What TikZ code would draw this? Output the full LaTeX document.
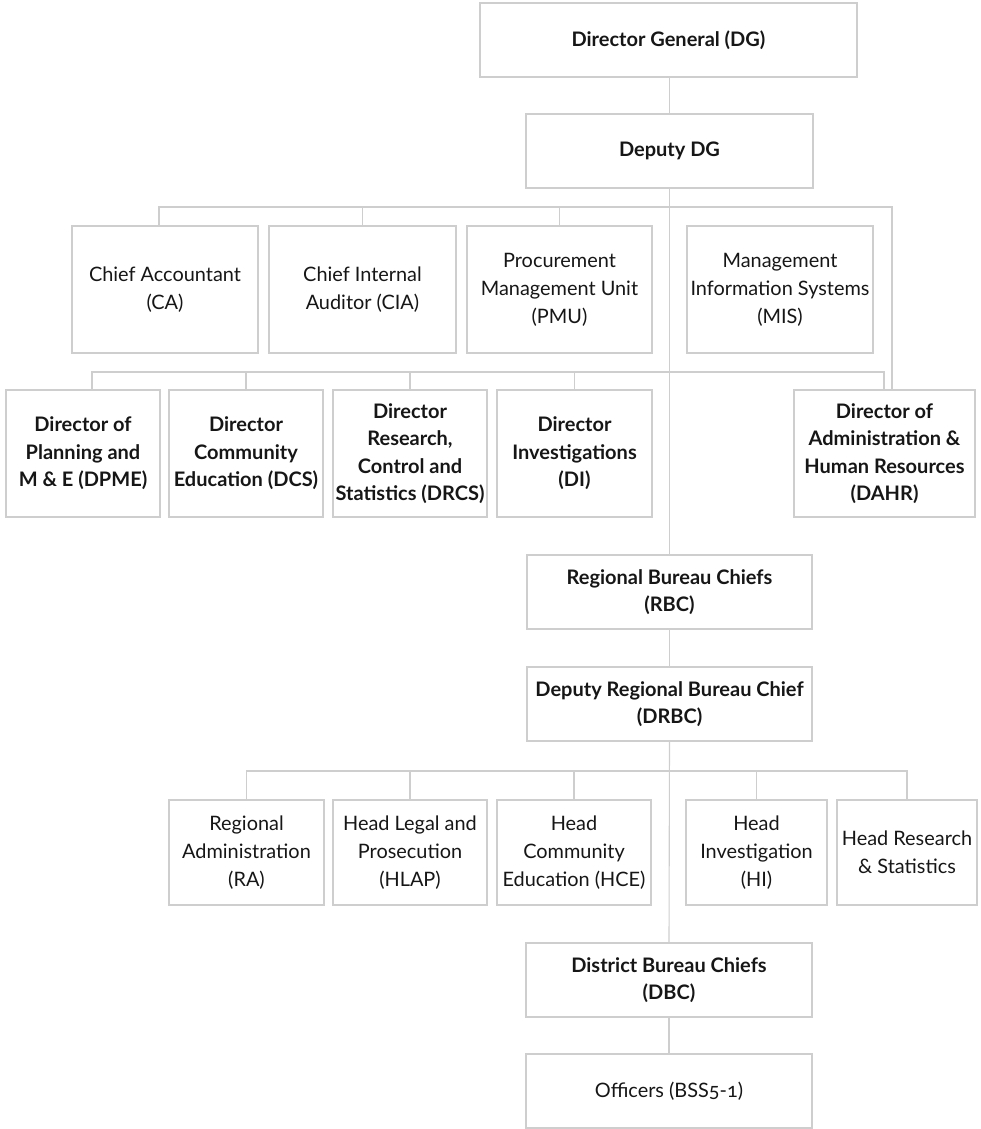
\documentclass[tikz,border=0pt]{standalone}
\usepackage{fontspec}
\setmainfont{Lato}[Numbers=OldStyle]
\definecolor{linegray}{RGB}{206,206,206}
\definecolor{ink}{RGB}{22,22,22}
\tikzset{
  box/.style={draw=linegray,line width=1.1pt,inner sep=0pt,align=center,text=ink,
    font=\fontsize{19.9}{28}\selectfont},
  bbox/.style={box,font=\fontsize{20}{27.5}\selectfont\bfseries},
  link/.style={draw=linegray,line width=1.1pt},
  sz/.style 2 args={minimum width=#1pt,minimum height=#2pt}
}
\begin{document}
\begin{tikzpicture}[x=1pt,y=-1pt]
\useasboundingbox (0,0) rectangle (980,1129);
% top
\node[bbox,sz={377}{74}] (DG) at (668.5,40) {Director General (DG)};
\node[bbox,sz={287}{74}] (DDG) at (669.5,151) {Deputy DG};
% staff row
\node[box,sz={186}{127}] (CA) at (165,289.5) {Chief Accountant\\(CA)};
\node[box,sz={187}{127}] (CIA) at (362.5,289.5) {Chief Internal\\Auditor (CIA)};
\node[box,sz={185}{127}] (PMU) at (559.5,289.5) {Procurement\\Management Unit\\(PMU)};
\node[box,sz={186}{127}] (MIS) at (780,289.5) {Management\\Information Systems\\(MIS)};
% directors row
\node[bbox,sz={154}{127}] (DPME) at (83,453.5) {Director of\\Planning and\\M \& E (DPME)};
\node[bbox,sz={154}{127}] (DCS) at (246,453.5) {Director\\Community\\Education (DCS)};
\node[bbox,sz={154}{127}] (DRCS) at (410,453.5) {Director\\Research,\\Control and\\Statistics (DRCS)};
\node[bbox,sz={155}{127}] (DI) at (574.5,453.5) {Director\\Investigations\\(DI)};
\node[bbox,sz={181}{127}] (DAHR) at (884.5,453.5) {Director of\\Administration \&\\Human Resources\\(DAHR)};
% regional
\node[bbox,sz={285}{74}] (RBC) at (669.5,592) {Regional Bureau Chiefs\\(RBC)};
\node[bbox,sz={285}{74}] (DRBC) at (669.5,704) {Deputy Regional Bureau Chief\\(DRBC)};
% heads row
\node[box,sz={155}{105}] (RA) at (246.5,852.5) {Regional\\Administration\\(RA)};
\node[box,sz={154}{105}] (HLAP) at (410,852.5) {Head Legal and\\Prosecution\\(HLAP)};
\node[box,sz={154}{105}] (HCE) at (574,852.5) {Head\\Community\\Education (HCE)};
\node[box,sz={141}{105}] (HI) at (756.5,852.5) {Head\\Investigation\\(HI)};
\node[box,sz={140}{105}] (HRS) at (907,852.5) {Head Research\\\& Statistics};
% district
\node[bbox,sz={286}{74}] (DBC) at (669,980) {District Bureau Chiefs\\(DBC)};
\node[box,sz={286}{74}] (OFF) at (669,1091) {Officers (BSS5-1)};
% bus coordinates
\coordinate (b1w) at (159,207);
\coordinate (b1e) at (892,207);
\coordinate (b2w) at (92,372);
\coordinate (b2e) at (884,372);
\coordinate (b3) at (0,771);
% connectors
\draw[link] (DG.south) -- (DDG.south |- DG.south) -- (DDG.north);
\draw[link] (DDG.south) -- (RBC.north);
\draw[link] (CA.north -| b1w) -- (b1w) -- (b1e) -- (DAHR.north -| b1e);
\draw[link] (CIA.north) -- (CIA.north |- b1w);
\draw[link] (PMU.north) -- (PMU.north |- b1w);
\draw[link] (DPME.north -| b2w) -- (b2w) -- (b2e) -- (DAHR.north -| b2e);
\draw[link] (DCS.north) -- (DCS.north |- b2w);
\draw[link] (DRCS.north) -- (DRCS.north |- b2w);
\draw[link] (DI.north) -- (DI.north |- b2w);
\draw[link] (RBC.south) -- (DRBC.north);
\draw[link] (DRBC.south) -- (DBC.north);
\draw[link] (RA.north) -- (RA.north |- b3) -- (HRS.north |- b3) -- (HRS.north);
\draw[link] (HLAP.north) -- (HLAP.north |- b3);
\draw[link] (HCE.north) -- (HCE.north |- b3);
\draw[link] (HI.north) -- (HI.north |- b3);
\draw[link] (DBC.south) -- (OFF.north);
\end{tikzpicture}
\end{document}
